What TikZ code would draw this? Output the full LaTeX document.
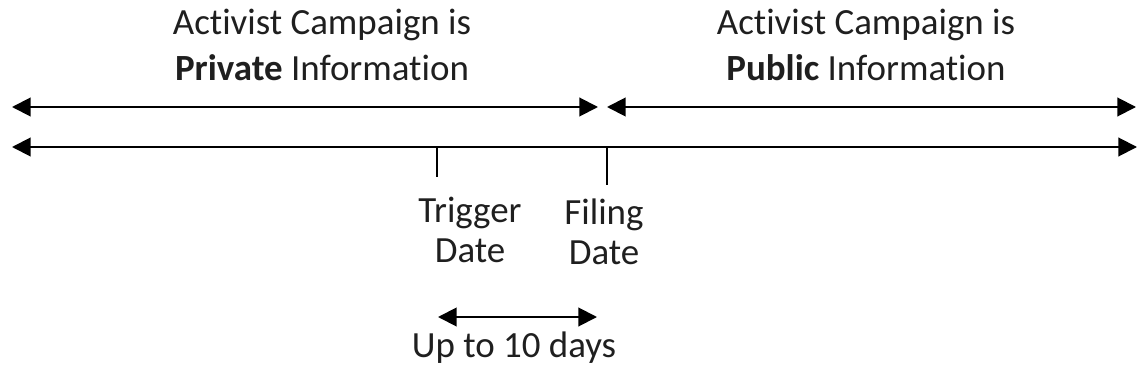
\documentclass[tikz,border=0pt]{standalone}
\usepackage{fontspec}
\setmainfont[Ligatures=NoCommon]{Carlito}
\usetikzlibrary{arrows.meta}
\begin{document}
\begin{tikzpicture}[x=0.75pt,y=-0.75pt,
  arr/.style={line width=1.5pt,{Triangle[length=14pt,width=14pt]}-{Triangle[length=14pt,width=14pt]}},
  tick/.style={line width=1.5pt},
  toptxt/.style={font=\fontsize{27.7}{34.5}\selectfont,align=center,inner sep=0pt,text=black!88,anchor=base},
  lowtxt/.style={font=\fontsize{27.7}{30}\selectfont,align=center,inner sep=0pt,text=black!88,anchor=base}]
\useasboundingbox (0,0) rectangle (1138,381);
% text blocks (anchor = baseline of last line)
\node[toptxt] (priv) at (322,81) {Activist Campaign is\\\textbf{Private} Information};
\node[toptxt] (pub) at (866,81) {Activist Campaign is\\\textbf{Public} Information};
\node[lowtxt] (trig) at (470,262) {Trigger\\Date};
\node[lowtxt] (fil) at (604,264) {Filing\\Date};
\node[lowtxt] (upto) at (514,357) {Up to 10 days};
% coordinates
\coordinate (pa) at (12,107);
\coordinate (pb) at (598,107);
\coordinate (qa) at (607,107);
\coordinate (qb) at (1136,107);
\coordinate (la) at (12,147);
\coordinate (lb) at (1137,147);
\coordinate (t1a) at (437,147);
\coordinate (t1b) at (437,177);
\coordinate (t2a) at (607,147);
\coordinate (t2b) at (607,185);
\coordinate (da) at (438,317);
\coordinate (db) at (597,317);
% connectors
\draw[arr] (pa) -- (pb);
\draw[arr] (qa) -- (qb);
\draw[arr] (la) -- (lb);
\draw[tick] (t1a) -- (t1b);
\draw[tick] (t2a) -- (t2b);
\draw[arr] (da) -- (db);
\end{tikzpicture}
\end{document}
